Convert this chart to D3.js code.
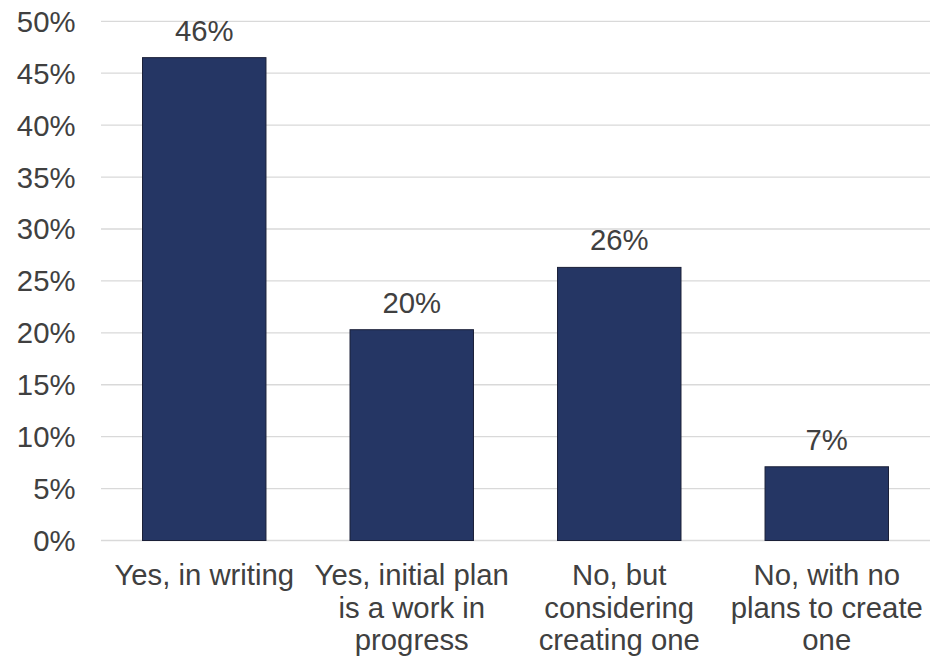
<!DOCTYPE html>
<html><head><meta charset="utf-8">
<script src="https://cdn.jsdelivr.net/npm/d3@7"></script>
<style>body{margin:0;background:#fff}svg{display:block}</style>
</head><body>
<svg id="c" width="930" height="657"></svg>
<script>
const categories = [
  ["Yes, in writing"],
  ["Yes, initial plan", "is a work in", "progress"],
  ["No, but", "considering", "creating one"],
  ["No, with no", "plans to create", "one"]
];
const values = [0.465, 0.203, 0.263, 0.071];
const valueLabels = ["46%", "20%", "26%", "7%"];
const yTicks = [0, 0.05, 0.10, 0.15, 0.20, 0.25, 0.30, 0.35, 0.40, 0.45, 0.50];

(function () {
const svg = d3.select("#c");
const font = "'Liberation Sans', Arial, sans-serif";
const fs = 29.3;
const mLeft = 101, mRight = 930, mTop = 21.3, mBottom = 540.5;

const x = d3.scaleBand().domain(d3.range(values.length)).range([mLeft, mRight]).paddingInner(0.405).paddingOuter(0.2);
const y = d3.scaleLinear().domain([0, 0.5]).range([mBottom, mTop]);

// gridlines
svg.append("g").selectAll("line").data(yTicks).join("line")
  .attr("x1", mLeft).attr("x2", mRight)
  .attr("y1", d => y(d)).attr("y2", d => y(d))
  .attr("stroke", "#d9d9d9").attr("stroke-width", 1.3);

// y labels
const yAxis = d3.axisLeft(y).tickValues(yTicks).tickFormat(d3.format(".0%")).tickSize(0).tickPadding(0);
const ya = svg.append("g").attr("transform", "translate(75.5,0)").call(yAxis);
ya.select(".domain").remove();
ya.selectAll("text").attr("font-family", font).attr("font-size", fs).attr("fill", "#404040").attr("dy", "0.34em");

// bars
svg.append("g").selectAll("rect").data(values).join("rect")
  .attr("x", (d, i) => x(i)).attr("width", x.bandwidth())
  .attr("y", d => y(d)).attr("height", d => y(0) - y(d))
  .attr("fill", "#253664").attr("stroke", "#1b2038").attr("stroke-width", 1);

// value labels
svg.append("g").selectAll("text").data(values).join("text")
  .attr("x", (d, i) => x(i) + x.bandwidth() / 2)
  .attr("y", d => y(d) - 17)
  .attr("text-anchor", "middle")
  .attr("font-family", font).attr("font-size", fs).attr("fill", "#404040")
  .text((d, i) => valueLabels[i]);

// category labels
const cg = svg.append("g").selectAll("text").data(categories).join("text")
  .attr("x", (d, i) => x(i) + x.bandwidth() / 2)
  .attr("y", 585)
  .attr("text-anchor", "middle")
  .attr("font-family", font).attr("font-size", fs).attr("fill", "#404040");
cg.selectAll("tspan").data(d => d).join("tspan")
  .attr("x", function () { return this.parentNode.getAttribute("x"); })
  .attr("dy", (d, j) => j === 0 ? 0 : 32.5)
  .text(d => d);
})();
</script>
</body></html>
